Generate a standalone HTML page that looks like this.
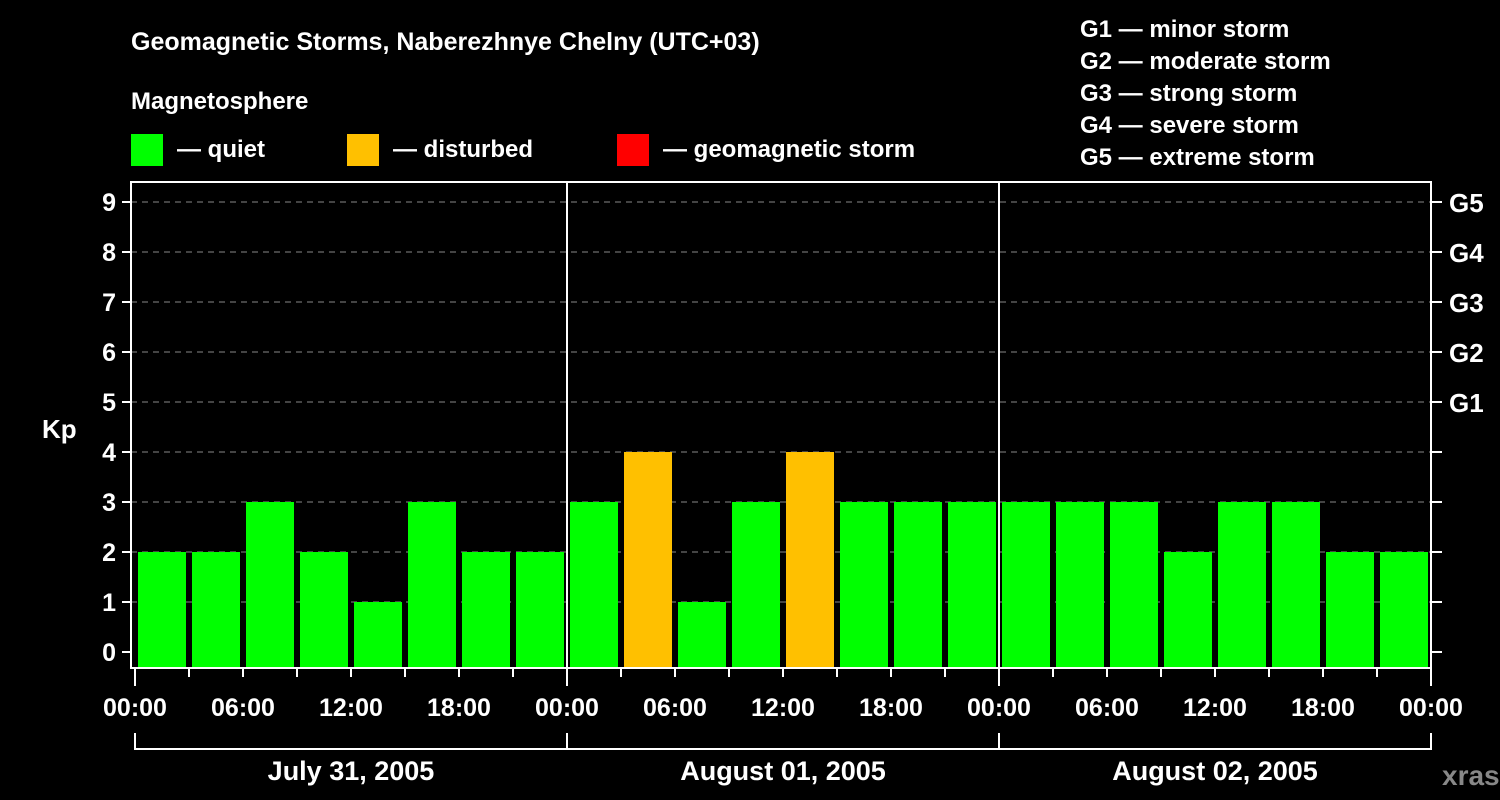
<!DOCTYPE html>
<html><head><meta charset="utf-8"><style>
html,body{margin:0;padding:0;background:#000;}
svg{display:block;font-family:"Liberation Sans",Arial,sans-serif;font-weight:bold;}
</style></head><body>
<svg id="c" width="1500" height="800" viewBox="0 0 1500 800">
<text x="131" y="50" fill="#fff" font-size="25">Geomagnetic Storms, Naberezhnye Chelny (UTC+03)</text>
<text x="131" y="109" fill="#fff" font-size="24">Magnetosphere</text>
<g><rect x="131" y="134" width="32" height="32" fill="#00ff00"/><text x="177" y="157" fill="#fff" font-size="24">— quiet</text></g>
<g><rect x="347" y="134" width="32" height="32" fill="#ffc000"/><text x="393" y="157" fill="#fff" font-size="24">— disturbed</text></g>
<g><rect x="617" y="134" width="32" height="32" fill="#ff0000"/><text x="663" y="157" fill="#fff" font-size="24">— geomagnetic storm</text></g>
<g fill="#fff" font-size="24">
<text x="1080" y="37">G1 — minor storm</text>
<text x="1080" y="69">G2 — moderate storm</text>
<text x="1080" y="101">G3 — strong storm</text>
<text x="1080" y="133">G4 — severe storm</text>
<text x="1080" y="165">G5 — extreme storm</text>
</g>
<text x="42" y="438" fill="#fff" font-size="26">Kp</text>
<text x="1442" y="785" fill="#888" font-size="28">xras.ru</text>
<g id="grid"></g><g id="bars"></g><g id="axes"></g>
</svg>
<script>
const days = ["July 31, 2005","August 01, 2005","August 02, 2005"];
const kpValues = [2,2,3,2,1,3,2,2, 3,4,1,3,4,3,3,3, 3,3,3,2,3,3,2,2];
const yTicks = [0,1,2,3,4,5,6,7,8,9];
const gLabels = ["G1","G2","G3","G4","G5"];
const hourLabels = ["00:00","06:00","12:00","18:00"];

const NS="http://www.w3.org/2000/svg";
const x0=135, dayW=432, stepW=54, plotL=131, plotR=1431, plotT=182, plotB=668;
const y = v => 652 - v*50;
const x = i => x0 + i*stepW;
function mk(tag, attrs, parent, text){const e=document.createElementNS(NS,tag);for(const k in attrs)e.setAttribute(k,attrs[k]);if(text!==undefined)e.textContent=text;parent.appendChild(e);return e;}
const grid=document.getElementById('grid'), bars=document.getElementById('bars'), axes=document.getElementById('axes');

yTicks.forEach(v=>{
  if(v>0){const l=mk('line',{x1:plotL,x2:plotR,y1:y(v),y2:y(v),stroke:'#888','stroke-dasharray':'6,5','stroke-width':1},grid);
  
  }
  const t=mk('line',{x1:122,x2:plotL,y1:y(v),y2:y(v),stroke:'#fff','stroke-width':2},axes);
  
  
  const lb=mk('text',{x:116,y:y(v)+9,fill:'#fff','font-size':25,'text-anchor':'end'},axes,String(v));
  
  
  const rt=mk('line',{x1:plotR,x2:1442,y1:y(v),y2:y(v),stroke:'#fff','stroke-width':2},axes);
  
  
  if(v>=5){const g=mk('text',{x:1449,y:y(v)+10,fill:'#fff','font-size':26},axes,gLabels[v-5]);
  
  }
});

kpValues.forEach((v,i)=>{
  const col = v>=5?'#ff0000':(v>=4?'#ffc000':'#00ff00');
  const r=mk('rect',{x:x(i)+3,y:y(v),width:48,height:plotB-y(v),fill:col},bars);
  
  
});

const fr=mk('rect',{x:plotL,y:plotT,width:plotR-plotL,height:plotB-plotT,fill:'none',stroke:'#fff','stroke-width':2},axes);


for(let d=1;d<days.length;d++){const l=mk('line',{x1:x0+d*dayW,x2:x0+d*dayW,y1:plotT,y2:plotB,stroke:'#fff','stroke-width':2},axes);

}
const nSteps=days.length*8;
for(let i=0;i<=nSteps;i++){
  const big=i%8===0;
  const t=mk('line',{x1:x(i),x2:x(i),y1:plotB,y2:big?686:677,stroke:'#fff','stroke-width':2},axes);
  
  
  if(i%2===0){const lb=mk('text',{x:x(i),y:716,fill:'#fff','font-size':25,'text-anchor':'middle'},axes,hourLabels[(i/2)%4]);
  
  }
}
days.forEach((d,k)=>{
  const a=x0+k*dayW, b=a+dayW;
  const p=mk('path',{d:`M${a},733V749H${b}V733`,fill:'none',stroke:'#fff','stroke-width':2},axes);
  
  
  const t=mk('text',{x:(a+b)/2,y:780,fill:'#fff','font-size':27,'text-anchor':'middle'},axes,d);
  
  
});
</script>
</body></html>
